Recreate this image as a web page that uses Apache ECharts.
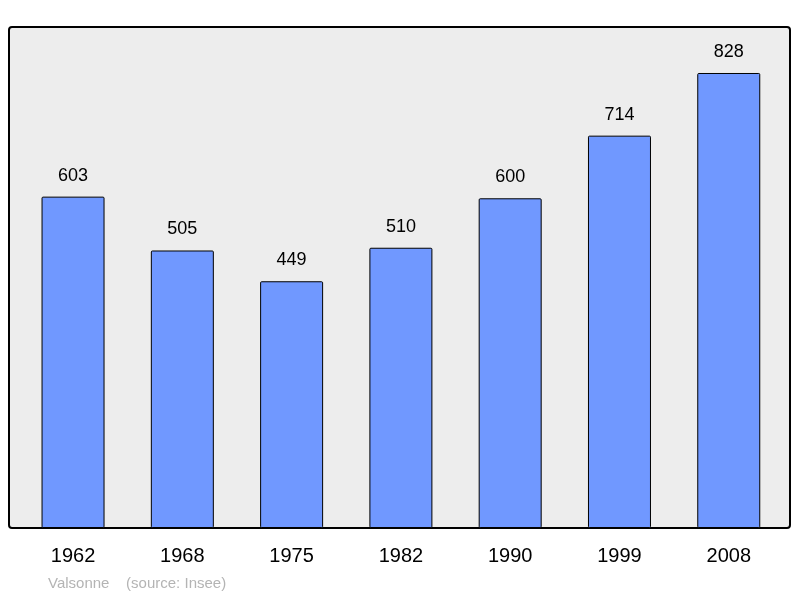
<!DOCTYPE html>
<html>
<head>
<meta charset="utf-8">
<script src="https://cdn.jsdelivr.net/npm/echarts@6/dist/echarts.min.js"></script>
<style>html,body{margin:0;padding:0;background:#fff}#chart{width:800px;height:598px}</style>
</head>
<body>
<div id="chart"></div>
<script>
'use strict';
const years = ['1962', '1968', '1975', '1982', '1990', '1999', '2008'];
const population = [603, 505, 449, 510, 600, 714, 828];

let myChart = echarts.init(document.getElementById('chart'));
let option = {
    animation: false,
    backgroundColor: '#ffffff',
    grid: { left: 18.4, right: 16.6, top: 27, bottom: 70 },
    graphic: [
        {
            type: 'rect', z: -10, silent: true,
            shape: { x: 9, y: 27, width: 781, height: 501, r: 3 },
            style: { fill: '#ededed', stroke: '#000', lineWidth: 2 }
        },
        {
            type: 'text', left: 48, top: 576,
            style: { text: 'Valsonne    (source: Insee)', fill: '#b4b4b4', font: '15px "Liberation Sans", Arial, sans-serif' }
        }
    ],
    xAxis: {
        type: 'category',
        data: years,
        axisLine: { show: false },
        axisTick: { show: false },
        axisLabel: { fontSize: 20, color: '#000', margin: 18, fontFamily: 'Liberation Sans' }
    },
    yAxis: {
        type: 'value', min: 0, max: 911.7,
        show: false,
        splitLine: { show: false }
    },
    series: [{
        type: 'bar',
        data: population,
        barWidth: 63,
        itemStyle: { color: '#7098ff', borderColor: '#000', borderWidth: 1, borderRadius: 1 },
        label: { show: true, position: 'top', distance: 12, fontSize: 18, color: '#000', fontFamily: 'Liberation Sans' }
    }]
};
myChart.setOption(option);
</script>
</body>
</html>
